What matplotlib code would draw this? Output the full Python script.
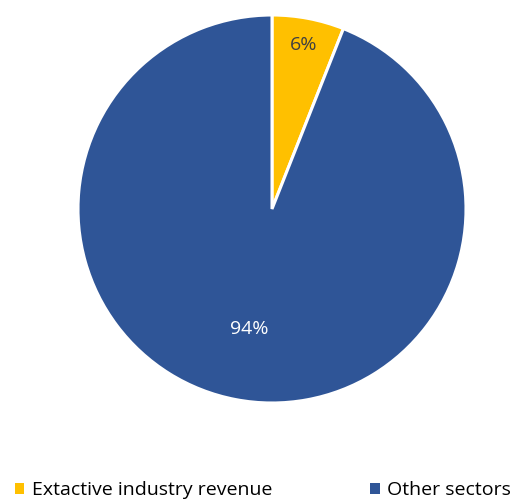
import matplotlib
matplotlib.use("Agg")
import matplotlib.pyplot as plt
import numpy as np
from matplotlib.patches import Patch

categories = ["Extactive industry revenue", "Other sectors"]
values = [6, 94]
colors = ["#FFC000", "#2F5597"]
label_colors = ["#404040", "white"]
label_radius = [0.86, 0.63]

W, H = 516, 501
fig = plt.figure(figsize=(W / 100, H / 100), dpi=100)
cx, cy, r = 272, 209, 194
ax = fig.add_axes([(cx - r) / W, (H - cy - r) / H, 2 * r / W, 2 * r / H])
wedges, _ = ax.pie(values, colors=colors, startangle=90, counterclock=False,
                   wedgeprops=dict(edgecolor="white", linewidth=2.2), radius=1)
ax.set_xlim(-1, 1)
ax.set_ylim(-1, 1)
ax.set_aspect("equal")
ax.axis("off")

for w, v, c, lr in zip(wedges, values, label_colors, label_radius):
    ang = np.deg2rad((w.theta1 + w.theta2) / 2)
    ax.text(lr * np.cos(ang), lr * np.sin(ang), f"{v}%", ha="center", va="center",
            color=c, fontsize=14, family="Open Sans")

handles = [Patch(facecolor=c, edgecolor="none") for c in colors]
fig.legend(handles, categories, ncol=2, loc="lower left", bbox_to_anchor=(0.021, -0.004),
           frameon=False, handlelength=0.5, handleheight=0.5, handletextpad=0.4,
           columnspacing=5.0, prop=dict(family="Open Sans", size=14),
           labelcolor="black", borderaxespad=0.0, borderpad=0.2)

fig.savefig("out.png", dpi=100)
